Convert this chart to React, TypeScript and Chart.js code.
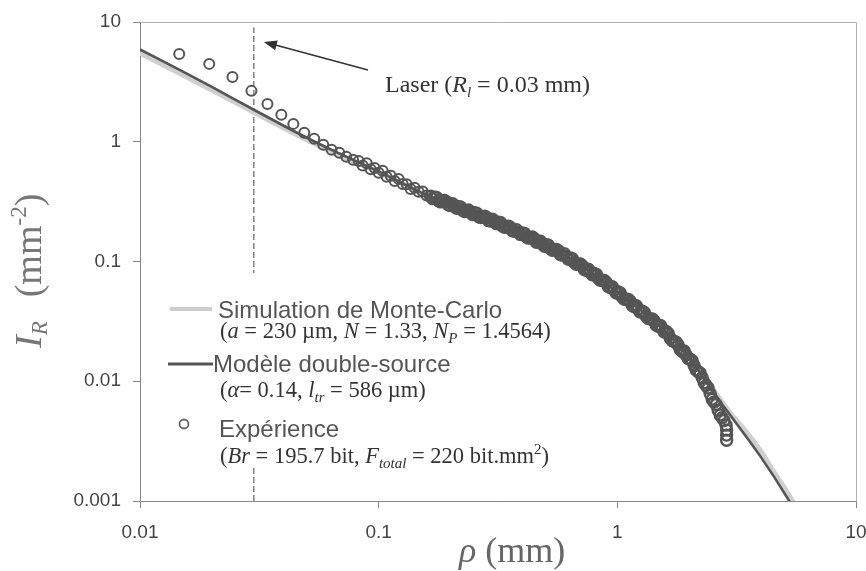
import React, { useEffect, useRef } from 'react';
import { Chart, registerables } from 'chart.js';

Chart.register(...registerables);

// ---------- data ----------
const xTickValues = [0.01, 0.1, 1, 10];
const xTickLabels = ['0.01', '0.1', '1', '10'];
const yTickValues = [0.001, 0.01, 0.1, 1, 10];
const yTickLabels = ['0.001', '0.01', '0.1', '1', '10'];

// Simulation de Monte-Carlo (rho in mm, I_R in mm^-2)
const simRho = [0.01, 0.015, 0.02, 0.03, 0.04, 0.05, 0.07, 0.1, 0.15, 0.2, 0.3, 0.5, 0.7, 1, 1.5, 2, 2.5, 3, 3.5, 4, 4.5, 5, 5.5, 6];
const simI = [5.5, 3.65, 2.7, 1.76, 1.3, 1.04, 0.76, 0.555, 0.375, 0.296, 0.221, 0.139, 0.093, 0.056, 0.0295, 0.0162, 0.0087, 0.0053, 0.0037, 0.0026, 0.00178, 0.0013, 0.00095, 0.0007];

// Modele double-source
const modelRho = [0.01, 0.015, 0.02, 0.03, 0.04, 0.05, 0.07, 0.1, 0.15, 0.2, 0.3, 0.5, 0.7, 1, 1.5, 2, 2.5, 3.06, 3.97, 5.19, 5.5];
const modelI = [5.9, 3.89, 2.87, 1.85, 1.36, 1.08, 0.78, 0.565, 0.378, 0.297, 0.222, 0.139, 0.0927, 0.0555, 0.029, 0.0158, 0.00826, 0.00482, 0.00237, 0.00104, 0.00085];

// Experience (measured profile)
const expRho = [
  0.0146, 0.0195, 0.0244, 0.0293, 0.0342, 0.0391, 0.0439, 0.0488, 0.0537, 0.0586, 0.0635, 0.0684, 0.0732, 0.0781,
  0.0825, 0.0857, 0.0891, 0.0926, 0.0962, 0.1, 0.1039, 0.108, 0.1123, 0.1167,
  0.1213, 0.126, 0.131, 0.1361, 0.1414, 0.147, 0.1528, 0.1588, 0.165, 0.1715,
  0.1782, 0.1852, 0.1925, 0.2001, 0.2079, 0.2161, 0.2246, 0.2334, 0.2426, 0.2521,
  0.262, 0.2723, 0.283, 0.2941, 0.3057, 0.3177, 0.3301, 0.3431, 0.3566, 0.3706,
  0.3851, 0.4003, 0.416, 0.4323, 0.4493, 0.4669, 0.4853, 0.5043, 0.5242, 0.5447,
  0.5661, 0.5884, 0.6115, 0.6355, 0.6604, 0.6864, 0.7133, 0.7413, 0.7705, 0.8007,
  0.8322, 0.8648, 0.8988, 0.9341, 0.9715, 1.0096, 1.0493, 1.0905, 1.1334, 1.1778,
  1.2241, 1.2722, 1.3221, 1.3741, 1.428, 1.4841, 1.5424, 1.603, 1.6659, 1.7313,
  1.7993, 1.87, 1.9434, 2.0198, 2.0991, 2.1815, 2.2672, 2.3562, 2.4488, 2.5449,
  2.6449, 2.7487, 2.8567, 2.87, 2.87, 2.87,
];
const expI = [
  5.41, 4.47, 3.48, 2.66, 2.07, 1.68, 1.41, 1.19, 1.06, 0.944, 0.858, 0.81, 0.75, 0.708,
  0.69, 0.633, 0.661, 0.59, 0.604, 0.551, 0.573, 0.51, 0.519, 0.47,
  0.489, 0.443, 0.442, 0.403, 0.412, 0.382, 0.384, 0.356, 0.351, 0.345,
  0.322, 0.319, 0.315, 0.294, 0.291, 0.287, 0.268, 0.266, 0.258, 0.255,
  0.238, 0.236, 0.233, 0.218, 0.216, 0.213, 0.198, 0.195, 0.192, 0.179,
  0.176, 0.173, 0.161, 0.158, 0.155, 0.144, 0.141, 0.138, 0.128, 0.125,
  0.123, 0.113, 0.11, 0.107, 0.0981, 0.095, 0.0923, 0.0845, 0.0818, 0.0793,
  0.0724, 0.0696, 0.0667, 0.0605, 0.058, 0.0557, 0.0504, 0.0484, 0.0464, 0.0419,
  0.0402, 0.0385, 0.0347, 0.0332, 0.0319, 0.0288, 0.0275, 0.026, 0.0229, 0.0215,
  0.0201, 0.0177, 0.0166, 0.0153, 0.0135, 0.012, 0.0107, 0.00923, 0.00785, 0.00671,
  0.00573, 0.00495, 0.0043, 0.00391, 0.00355, 0.00322,
];
// Experience, intermediate pixels of the dense part of the profile
const expRhoDense = [
  0.1682, 0.1748, 0.1817, 0.1888, 0.1963, 0.204, 0.212, 0.2203, 0.229, 0.2379,
  0.2473, 0.257, 0.2671, 0.2776, 0.2885, 0.2998, 0.3116, 0.3238, 0.3366, 0.3498,
  0.3635, 0.3778, 0.3926, 0.408, 0.4241, 0.4407, 0.458, 0.476, 0.4947, 0.5142,
  0.5344, 0.5553, 0.5771, 0.5998, 0.6234, 0.6478, 0.6733, 0.6997, 0.7272, 0.7558,
  0.7854, 0.8163, 0.8483, 0.8817, 0.9163, 0.9523, 0.9904, 1.0292, 1.0697, 1.1117,
  1.1555, 1.2007, 1.2479, 1.297, 1.3478, 1.4008, 1.4558, 1.513, 1.5724, 1.6342,
  1.6983, 1.765, 1.8343, 1.9064, 1.9812, 2.0591, 2.1399, 2.224, 2.3113, 2.402,
  2.4964, 2.5944, 2.6964, 2.8022,
];
const expIDense = [
  0.335, 0.343, 0.3145, 0.323, 0.2956, 0.3038, 0.278, 0.2856, 0.2615, 0.2692,
  0.2469, 0.2536, 0.2326, 0.2394, 0.2193, 0.2257, 0.207, 0.2118, 0.1931, 0.1976,
  0.1803, 0.1845, 0.1679, 0.1718, 0.1567, 0.16, 0.1451, 0.1476, 0.1341, 0.1365,
  0.124, 0.1261, 0.1143, 0.1163, 0.1045, 0.1053, 0.0946, 0.0953, 0.0856, 0.0863,
  0.0775, 0.0781, 0.0696, 0.0695, 0.0617, 0.0615, 0.0546, 0.0545, 0.0484, 0.0483,
  0.0429, 0.0427, 0.0378, 0.0376, 0.0334, 0.0332, 0.0294, 0.0293, 0.0258, 0.0251,
  0.0218, 0.0212, 0.0183, 0.0179, 0.0155, 0.0148, 0.0124, 0.0117, 0.0097, 0.00878,
  0.00707, 0.00639, 0.00522, 0.00469,
];

// Laser spot radius marker
const laserRho = 0.03;
const laserSpan = [0.001, 9];

// ---------- styling ----------
const SANS = '"Liberation Sans", Arial, sans-serif';
const SERIF = '"Liberation Serif", "Times New Roman", serif';

type Part = { t: string; it?: boolean; size: number; dy?: number; fam?: string };

function rich(ctx: CanvasRenderingContext2D, x: number, y: number, parts: Part[], color: string) {
  let cx = x;
  ctx.fillStyle = color;
  ctx.textAlign = 'left';
  ctx.textBaseline = 'alphabetic';
  for (const p of parts) {
    ctx.font = `${p.it ? 'italic ' : ''}${p.size}px ${p.fam || SERIF}`;
    ctx.fillText(p.t, cx, y + (p.dy || 0));
    cx += ctx.measureText(p.t).width;
  }
  return cx;
}

const annotations = {
  id: 'annotations',
  afterDraw(chart: any) {
    const ctx: CanvasRenderingContext2D = chart.ctx;
    const { chartArea } = chart;
    const xs = chart.scales.x;
    ctx.save();

    // plot frame (top & right)
    ctx.strokeStyle = '#b0b0b0';
    ctx.lineWidth = 1;
    ctx.beginPath();
    ctx.moveTo(Math.round(chartArea.left) + 0.5, Math.round(chartArea.top) + 0.5);
    ctx.lineTo(Math.round(chartArea.right) + 0.5, Math.round(chartArea.top) + 0.5);
    ctx.lineTo(Math.round(chartArea.right) + 0.5, Math.round(chartArea.bottom) + 0.5);
    ctx.stroke();

    // Legend box
    ctx.fillStyle = '#ffffff';
    ctx.fillRect(163, 273, 405, 192);

    const S = 22.5;
    const SUB = 15;
    ctx.lineCap = 'butt';
    ctx.strokeStyle = '#cdcdcd';
    ctx.lineWidth = 4;
    ctx.beginPath();
    ctx.moveTo(170, 309);
    ctx.lineTo(212, 309);
    ctx.stroke();
    rich(ctx, 218, 318, [{ t: 'Simulation de Monte-Carlo', size: 24, fam: SANS }], '#555');
    rich(ctx, 220, 338, [
      { t: '(', size: S },
      { t: 'a', it: true, size: S },
      { t: ' = 230 \u00b5m, ', size: S },
      { t: 'N', it: true, size: S },
      { t: ' = 1.33, ', size: S },
      { t: 'N', it: true, size: S },
      { t: 'P', it: true, size: SUB, dy: 5 },
      { t: ' = 1.4564)', size: S },
    ], '#333');

    ctx.strokeStyle = '#555';
    ctx.lineWidth = 3;
    ctx.beginPath();
    ctx.moveTo(168, 364);
    ctx.lineTo(213, 364);
    ctx.stroke();
    rich(ctx, 213, 372, [{ t: 'Mod\u00e8le double-source', size: 24, fam: SANS }], '#555');
    rich(ctx, 220, 397, [
      { t: '(', size: S },
      { t: '\u03b1', it: true, size: S },
      { t: '= 0.14, ', size: S },
      { t: 'l', it: true, size: S },
      { t: 'tr', it: true, size: SUB, dy: 5 },
      { t: ' = 586 \u00b5m)', size: S },
    ], '#333');

    ctx.strokeStyle = '#666';
    ctx.lineWidth = 1.8;
    ctx.beginPath();
    ctx.arc(184, 424, 4.5, 0, Math.PI * 2);
    ctx.stroke();
    rich(ctx, 219, 437, [{ t: 'Exp\u00e9rience', size: 24, fam: SANS }], '#555');
    rich(ctx, 220, 463, [
      { t: '(', size: S },
      { t: 'Br', it: true, size: S },
      { t: ' = 195.7 bit, ', size: S },
      { t: 'F', it: true, size: S },
      { t: 'total', it: true, size: SUB, dy: 5 },
      { t: ' = 220 bit.mm', size: S },
      { t: '2', size: SUB, dy: -9 },
      { t: ')', size: S },
    ], '#333');

    // Laser arrow + label
    const lx = xs.getPixelForValue(laserRho);
    const tipX = lx + 10;
    const tipY = 42;
    const tailX = 368;
    const tailY = 70;
    const ang = Math.atan2(tipY - tailY, tipX - tailX);
    ctx.strokeStyle = '#333';
    ctx.fillStyle = '#333';
    ctx.lineWidth = 1.6;
    ctx.beginPath();
    ctx.moveTo(tailX, tailY);
    ctx.lineTo(tipX - 10 * Math.cos(ang), tipY - 10 * Math.sin(ang));
    ctx.stroke();
    ctx.beginPath();
    ctx.moveTo(tipX, tipY);
    ctx.lineTo(tipX - 13 * Math.cos(ang) + 5 * Math.sin(ang), tipY - 13 * Math.sin(ang) - 5 * Math.cos(ang));
    ctx.lineTo(tipX - 13 * Math.cos(ang) - 5 * Math.sin(ang), tipY - 13 * Math.sin(ang) + 5 * Math.cos(ang));
    ctx.closePath();
    ctx.fill();
    rich(ctx, 385, 92, [
      { t: 'Laser (', size: 24 },
      { t: 'R', it: true, size: 24 },
      { t: 'l', it: true, size: 15, dy: 5 },
      { t: ' = 0.03 mm)', size: 24 },
    ], '#333');

    // axis titles
    rich(ctx, 459, 562, [
      { t: '\u03c1', it: true, size: 36 },
      { t: ' (mm)', size: 36 },
    ], '#666');

    ctx.save();
    ctx.translate(41, 348);
    ctx.rotate(-Math.PI / 2);
    const ex = rich(ctx, 0, 0, [
      { t: 'I', it: true, size: 38 },
      { t: 'R', it: true, size: 23, dy: 6 },
    ], '#777');
    rich(ctx, ex + 24, 0, [
      { t: '(mm', size: 38 },
      { t: '-2', size: 23, dy: -15 },
      { t: ')', size: 38 },
    ], '#777');
    ctx.restore();

    ctx.restore();
  },
};

const pts = (xs: number[], ys: number[]) => xs.map((x, i) => ({ x, y: ys[i] }));

export default function App() {
  const ref = useRef<HTMLCanvasElement | null>(null);

  useEffect(() => {
    if (!ref.current) return;
    const tickFont = { family: SANS, size: 19 };
    const chart = new Chart(ref.current, {
      type: 'line',
      data: {
        datasets: [
          {
            label: 'Exp\u00e9rience',
            data: pts(expRho, expI).concat(pts(expRhoDense, expIDense)),
            showLine: false,
            pointRadius: (c: any) => (c.raw && c.raw.x > 0.16 ? 5.5 : 5),
            pointBorderWidth: (c: any) => (c.raw && c.raw.x > 0.16 ? 2.4 : 2),
            pointBorderColor: '#555555',
            pointBackgroundColor: 'rgba(0,0,0,0)',
            pointHoverRadius: 5,
          },
          {
            label: 'Mod\u00e8le double-source',
            data: pts(modelRho, modelI),
            borderColor: '#555555',
            borderWidth: 2.6,
            pointRadius: 0,
            cubicInterpolationMode: 'monotone',
            fill: false,
          },
          {
            label: 'Simulation de Monte-Carlo',
            data: pts(simRho, simI),
            borderColor: '#cfcfcf',
            borderWidth: 5,
            pointRadius: 0,
            cubicInterpolationMode: 'monotone',
            fill: false,
          },
          {
            label: 'Laser',
            data: laserSpan.map((v) => ({ x: laserRho, y: v })),
            borderColor: '#444',
            borderWidth: 1,
            borderDash: [6, 3],
            pointRadius: 0,
            fill: false,
          },
        ],
      },
      options: {
        responsive: false,
        animation: false,
        events: [],
        layout: { padding: { top: 22, right: 10, left: 0, bottom: 0 } },
        plugins: { legend: { display: false }, tooltip: { enabled: false }, title: { display: false } },
        scales: {
          x: {
            type: 'logarithmic',
            position: 'bottom',
            min: 0.01,
            max: 10,
            afterBuildTicks: (s: any) => {
              s.ticks = xTickValues.map((v) => ({ value: v }));
            },
            afterFit: (s: any) => {
              s.height = 70;
              s.paddingLeft = 0;
              s.paddingRight = 0;
            },
            ticks: {
              autoSkip: false,
              maxRotation: 0,
              padding: 13,
              color: '#444',
              font: tickFont,
              callback: (_v: any, i: number) => xTickLabels[i],
            },
            grid: { drawOnChartArea: false, drawTicks: true, tickLength: 7, color: '#888' },
            border: { color: '#888', width: 1 },
          },
          y: {
            type: 'logarithmic',
            position: 'left',
            min: 0.001,
            max: 10,
            afterBuildTicks: (s: any) => {
              s.ticks = yTickValues.map((v) => ({ value: v }));
            },
            afterFit: (s: any) => {
              s.width = 140;
              s.paddingTop = 0;
              s.paddingBottom = 0;
            },
            ticks: {
              autoSkip: false,
              padding: 12,
              color: '#444',
              font: tickFont,
              callback: (_v: any, i: number) => yTickLabels[i],
            },
            grid: { drawOnChartArea: false, drawTicks: true, tickLength: 7, color: '#888' },
            border: { color: '#888', width: 1 },
          },
        },
      },
      plugins: [annotations],
    } as any);
    return () => chart.destroy();
  }, []);

  return (
    <div style={{ position: 'fixed', left: 0, top: 0, width: 866, height: 571, background: '#fff' }}>
      <canvas ref={ref} width={866} height={571} style={{ display: 'block' }} />
    </div>
  );
}
